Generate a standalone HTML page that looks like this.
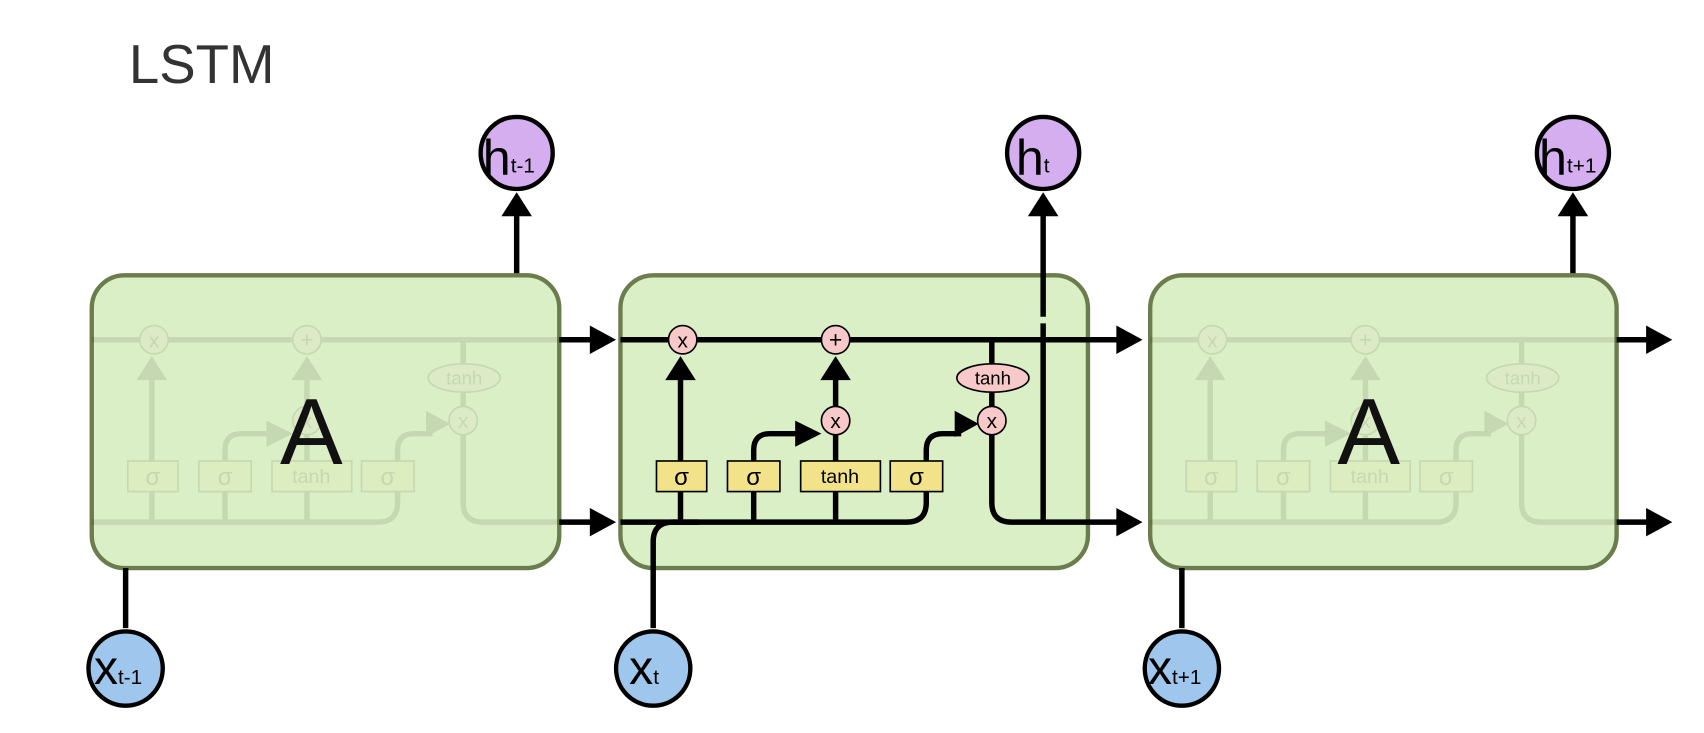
<!DOCTYPE html>
<html><head><meta charset="utf-8"><style>
html,body{margin:0;padding:0;background:#fff;}
svg{display:block;}
text{font-family:"Liberation Sans","DejaVu Sans",sans-serif;}
</style></head><body>
<svg width="1704" height="733" viewBox="0 0 1560 671" xmlns="http://www.w3.org/2000/svg">
<defs>
<g id="internals">
  <line x1="568" y1="311" x2="1030" y2="311" stroke="#000" stroke-width="5"/>
  <path d="M568,478 L830,478 Q848,478 848,460 L848,450" fill="none" stroke="#000" stroke-width="5"/>
  <line x1="623" y1="478" x2="623" y2="450" stroke="#000" stroke-width="5"/>
  <line x1="623" y1="422" x2="623" y2="345" stroke="#000" stroke-width="5"/>
  <polygon points="609,348 637,348 623,326" fill="#000"/>
  <path d="M690,478 L690,450 M690,422 L690,412 Q690,397 705,397 L735,397" fill="none" stroke="#000" stroke-width="5"/>
  <polygon points="728,385 752,397 728,409" fill="#000"/>
  <path d="M765,478 L765,450 M765,422 L765,398" stroke="#000" stroke-width="5"/>
  <line x1="765" y1="372" x2="765" y2="345" stroke="#000" stroke-width="5"/>
  <polygon points="751,348 779,348 765,326" fill="#000"/>
  <path d="M848,422 L848,412 Q848,397 863,397 L880,397" fill="none" stroke="#000" stroke-width="5"/>
  <polygon points="874,376 896,388 874,400" fill="#000"/>
  <line x1="908" y1="311" x2="908" y2="372" stroke="#000" stroke-width="5"/>
  <path d="M908,398 L908,460 Q908,478 926,478 L1030,478" fill="none" stroke="#000" stroke-width="5"/>
  <circle cx="625" cy="311" r="13" fill="#f7c9c9" stroke="#000" stroke-width="1.5"/>
  <text x="625" y="318" font-size="19" text-anchor="middle">x</text>
  <circle cx="765" cy="311" r="13" fill="#f7c9c9" stroke="#000" stroke-width="1.5"/>
  <text x="765" y="318" font-size="21" text-anchor="middle">+</text>
  <circle cx="765" cy="385" r="13" fill="#f7c9c9" stroke="#000" stroke-width="1.5"/>
  <text x="765" y="392" font-size="19" text-anchor="middle">x</text>
  <ellipse cx="909" cy="346" rx="33" ry="13" fill="#f7c9c9" stroke="#000" stroke-width="1.5"/>
  <text x="909" y="352" font-size="17" text-anchor="middle">tanh</text>
  <circle cx="908" cy="385" r="13" fill="#f7c9c9" stroke="#000" stroke-width="1.5"/>
  <text x="908" y="392" font-size="19" text-anchor="middle">x</text>
  <rect x="601" y="422" width="46" height="28" fill="#f2e38a" stroke="#000" stroke-width="1.5"/>
  <text x="624" y="444" font-size="22" text-anchor="middle">σ</text>
  <rect x="666" y="422" width="48" height="28" fill="#f2e38a" stroke="#000" stroke-width="1.5"/>
  <text x="690" y="444" font-size="22" text-anchor="middle">σ</text>
  <rect x="733" y="422" width="73" height="28" fill="#f2e38a" stroke="#000" stroke-width="1.5"/>
  <text x="769" y="442" font-size="18" text-anchor="middle">tanh</text>
  <rect x="815" y="422" width="48" height="28" fill="#f2e38a" stroke="#000" stroke-width="1.5"/>
  <text x="839" y="444" font-size="22" text-anchor="middle">σ</text>
</g>
</defs>

<text x="118" y="76" font-size="50" fill="#333">LSTM</text>

<!-- Box 1 -->
<line x1="473" y1="252" x2="473" y2="195" stroke="#000" stroke-width="5"/>
<polygon points="459,198 487,198 473,176" fill="#000"/>
<rect x="84" y="252" width="428" height="268" rx="30" fill="#daefc5" stroke="#6b7d4c" stroke-width="4"/>
<g opacity="0.09"><use href="#internals" transform="translate(-484,0)"/></g>
<text x="285" y="425" font-size="86" text-anchor="middle" fill="#111">A</text>
<line x1="115" y1="575" x2="115" y2="520" stroke="#000" stroke-width="5"/>
<line x1="512" y1="311" x2="545" y2="311" stroke="#000" stroke-width="5"/>
<polygon points="540,298 564,311 540,324" fill="#000"/>
<line x1="512" y1="478" x2="545" y2="478" stroke="#000" stroke-width="5"/>
<polygon points="540,465 564,478 540,491" fill="#000"/>

<!-- Box 2 -->
<rect x="568" y="252" width="428" height="268" rx="30" fill="#daefc5" stroke="#6b7d4c" stroke-width="4"/>
<use href="#internals"/>
<path d="M598,575 L598,496 Q598,478 616,478 L640,478" fill="none" stroke="#000" stroke-width="5"/>
<line x1="955" y1="478" x2="955" y2="296" stroke="#000" stroke-width="5"/>
<line x1="955" y1="290" x2="955" y2="195" stroke="#000" stroke-width="5"/>
<polygon points="941,198 969,198 955,176" fill="#000"/>
<polygon points="1022,298 1046,311 1022,324" fill="#000"/>
<polygon points="1022,465 1046,478 1022,491" fill="#000"/>

<!-- Box 3 -->
<line x1="1440" y1="252" x2="1440" y2="195" stroke="#000" stroke-width="5"/>
<polygon points="1426,198 1454,198 1440,176" fill="#000"/>
<rect x="1053" y="252" width="427" height="268" rx="30" fill="#daefc5" stroke="#6b7d4c" stroke-width="4"/>
<g opacity="0.09"><use href="#internals" transform="translate(485,0)"/></g>
<text x="1253" y="425" font-size="86" text-anchor="middle" fill="#111">A</text>
<line x1="1082" y1="575" x2="1082" y2="520" stroke="#000" stroke-width="5"/>
<line x1="1480" y1="311" x2="1512" y2="311" stroke="#000" stroke-width="5"/>
<polygon points="1507,298 1531,311 1507,324" fill="#000"/>
<line x1="1480" y1="478" x2="1512" y2="478" stroke="#000" stroke-width="5"/>
<polygon points="1507,465 1531,478 1507,491" fill="#000"/>

<!-- h circles -->
<circle cx="473" cy="140" r="33" fill="#d5aeef" stroke="#000" stroke-width="4"/>
<text x="442" y="160" font-size="46">h<tspan font-size="19" dy="-2">t-1</tspan></text>
<circle cx="955" cy="140" r="33" fill="#d5aeef" stroke="#000" stroke-width="4"/>
<text x="930" y="160" font-size="46">h<tspan font-size="19" dy="-2">t</tspan></text>
<circle cx="1440" cy="140" r="33" fill="#d5aeef" stroke="#000" stroke-width="4"/>
<text x="1409" y="160" font-size="46">h<tspan font-size="19" dy="-2">t+1</tspan></text>

<!-- x circles -->
<circle cx="115" cy="612" r="34" fill="#9fc6ec" stroke="#000" stroke-width="4"/>
<text x="86" y="626" font-size="44">x<tspan font-size="19">t-1</tspan></text>
<circle cx="598" cy="612" r="34" fill="#9fc6ec" stroke="#000" stroke-width="4"/>
<text x="576" y="626" font-size="44">x<tspan font-size="19">t</tspan></text>
<circle cx="1082" cy="612" r="34" fill="#9fc6ec" stroke="#000" stroke-width="4"/>
<text x="1051" y="626" font-size="44">x<tspan font-size="19">t+1</tspan></text>
</svg>
</body></html>
